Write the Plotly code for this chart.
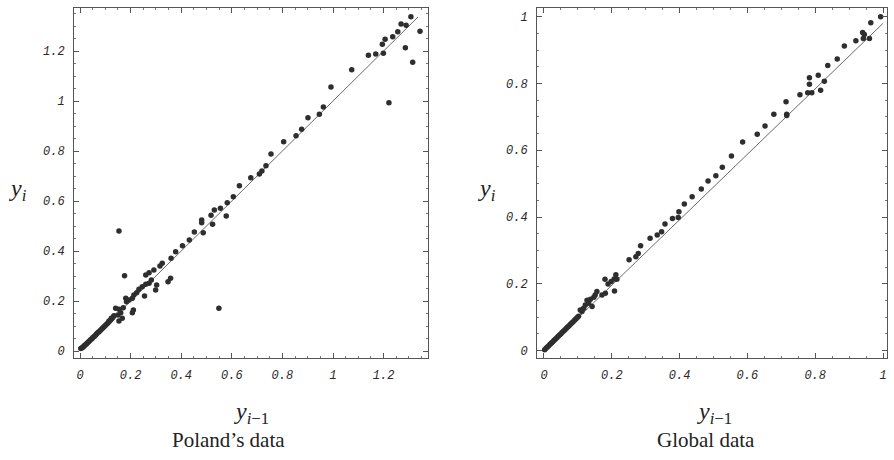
import plotly.graph_objects as go

# ---- Poland's data: (y_{i-1}, y_i) pairs ----
pl_prev = [0.003, 0.007, 0.011, 0.015, 0.019, 0.024, 0.028, 0.033, 0.037, 0.042, 0.047, 0.051,
           0.056, 0.061, 0.065, 0.070, 0.075, 0.080, 0.085, 0.090, 0.095, 0.100, 0.105, 0.110,
           0.115, 0.120, 0.125, 0.130,
           0.124, 0.134, 0.150, 0.154, 0.161, 0.167, 0.141, 0.154, 0.171, 0.115,
           0.181, 0.184, 0.194, 0.207, 0.213, 0.211, 0.207, 0.224, 0.233, 0.246, 0.255,
           0.260, 0.273, 0.282, 0.299, 0.303, 0.260, 0.273, 0.292, 0.316, 0.325, 0.348, 0.358,
           0.154, 0.176, 0.549,
           0.360, 0.378, 0.405, 0.432, 0.452, 0.487, 0.481, 0.481, 0.524, 0.518, 0.531, 0.555,
           0.578, 0.582, 0.606, 0.630, 0.675, 0.709, 0.719, 0.735, 0.755, 0.805, 0.854, 0.876,
           0.901, 0.946, 0.962, 0.992, 1.074, 1.140, 1.169, 1.199, 1.195, 1.206, 1.236, 1.256,
           1.269, 1.289, 1.308, 1.344, 1.286, 1.315, 1.221]
pl_curr = [0.010, 0.012, 0.015, 0.019, 0.023, 0.027, 0.031, 0.036, 0.040, 0.045, 0.049, 0.054,
           0.058, 0.063, 0.068, 0.073, 0.077, 0.082, 0.087, 0.092, 0.097, 0.102, 0.107, 0.112,
           0.118, 0.123, 0.129, 0.134,
           0.131, 0.141, 0.144, 0.120, 0.153, 0.131, 0.171, 0.167, 0.173, 0.120,
           0.211, 0.197, 0.204, 0.211, 0.224, 0.164, 0.153, 0.233, 0.247, 0.257, 0.220,
           0.267, 0.271, 0.284, 0.244, 0.264, 0.304, 0.313, 0.324, 0.340, 0.351, 0.277, 0.291,
           0.480, 0.301, 0.171,
           0.371, 0.397, 0.421, 0.444, 0.476, 0.473, 0.513, 0.524, 0.507, 0.543, 0.564, 0.571,
           0.540, 0.593, 0.617, 0.661, 0.693, 0.708, 0.720, 0.741, 0.788, 0.837, 0.861, 0.887,
           0.933, 0.947, 0.976, 1.056, 1.125, 1.183, 1.188, 1.191, 1.227, 1.247, 1.257, 1.277,
           1.308, 1.303, 1.337, 1.279, 1.213, 1.155, 0.993]
pl_line_x = [0.0, 1.336]
pl_line_y = [0.0, 1.336]

# ---- Global data: (y_{i-1}, y_i) pairs ----
gl_prev = [0.002, 0.006, 0.010, 0.014, 0.018, 0.022, 0.026, 0.030, 0.034, 0.038, 0.042, 0.046,
           0.050, 0.054, 0.058, 0.062, 0.066, 0.070, 0.074, 0.078, 0.082, 0.086, 0.090, 0.094,
           0.098, 0.102,
           0.107, 0.112, 0.117, 0.122, 0.127, 0.132, 0.137, 0.142, 0.147, 0.151, 0.156, 0.171,
           0.181, 0.189, 0.198, 0.207, 0.212, 0.208, 0.215, 0.180,
           0.251, 0.271, 0.278, 0.285, 0.313, 0.334, 0.347, 0.357, 0.379, 0.396, 0.398, 0.414,
           0.437, 0.464, 0.484, 0.507, 0.526, 0.553, 0.586, 0.629, 0.652, 0.678, 0.714, 0.716,
           0.716, 0.755, 0.778, 0.790, 0.783, 0.783, 0.809, 0.816, 0.827, 0.837, 0.865, 0.886,
           0.920, 0.942, 0.960, 0.940, 0.945, 0.964, 0.993]
gl_curr = [0.003, 0.007, 0.011, 0.015, 0.019, 0.023, 0.027, 0.031, 0.035, 0.039, 0.043, 0.047,
           0.051, 0.055, 0.059, 0.063, 0.067, 0.071, 0.075, 0.079, 0.083, 0.087, 0.091, 0.095,
           0.099, 0.103,
           0.122, 0.117, 0.127, 0.137, 0.151, 0.142, 0.154, 0.132, 0.160, 0.167, 0.177, 0.167,
           0.172, 0.200, 0.207, 0.215, 0.227, 0.179, 0.214, 0.214,
           0.272, 0.281, 0.291, 0.314, 0.337, 0.346, 0.356, 0.379, 0.396, 0.399, 0.416, 0.439,
           0.461, 0.484, 0.508, 0.524, 0.549, 0.583, 0.625, 0.648, 0.673, 0.708, 0.745, 0.708,
           0.704, 0.766, 0.772, 0.772, 0.798, 0.817, 0.825, 0.780, 0.807, 0.854, 0.873, 0.912,
           0.928, 0.935, 0.935, 0.953, 0.947, 0.982, 1.000]
gl_line_x = [0.0, 1.0]
gl_line_y = [0.0, 0.98]

tick_vals_pl = [0, 0.2, 0.4, 0.6, 0.8, 1, 1.2]
tick_text_pl = ["0", "0.2", "0.4", "0.6", "0.8", "1", "1.2"]
tick_vals_gl = [0, 0.2, 0.4, 0.6, 0.8, 1]
tick_text_gl = ["0", "0.2", "0.4", "0.6", "0.8", "1"]

INK = "#2e2e2e"
FRAME = "#555555"

fig = go.Figure()

for prev, curr, lx, ly, xa, ya in [
    (pl_prev, pl_curr, pl_line_x, pl_line_y, "x", "y"),
    (gl_prev, gl_curr, gl_line_x, gl_line_y, "x2", "y2"),
]:
    fig.add_trace(go.Scatter(x=lx, y=ly, mode="lines", xaxis=xa, yaxis=ya,
                             line=dict(color="#6a6a6a", width=1), showlegend=False,
                             hoverinfo="skip"))
    fig.add_trace(go.Scatter(x=prev, y=curr, mode="markers", xaxis=xa, yaxis=ya,
                             marker=dict(color=INK, size=5.5, line=dict(width=0)),
                             showlegend=False))

tickfont = dict(family="Liberation Mono", size=12, color="#2a2a2a", style="italic")


def axis_style(domain, rng, vals, text, anchor):
    return dict(domain=domain, range=rng, anchor=anchor,
                tickvals=vals, ticktext=text, tickfont=tickfont,
                showgrid=False, zeroline=False,
                showline=True, linecolor=FRAME, linewidth=1, mirror="allticks",
                ticks="inside", ticklen=5, tickwidth=1, tickcolor=FRAME,
                minor=dict(dtick=0.05, ticks="inside", ticklen=2, tickcolor="#777777"),
                ticklabelstandoff=6)


W, H = 894, 460
fig.update_layout(
    width=W, height=H,
    margin=dict(l=0, r=0, t=0, b=0),
    paper_bgcolor="white", plot_bgcolor="white",
    xaxis=axis_style([74 / W, 428 / W], [-0.0237, 1.3755], tick_vals_pl, tick_text_pl, "y"),
    yaxis=axis_style([1 - 358 / H, 1 - 8 / H], [-0.028, 1.372], tick_vals_pl, tick_text_pl, "x"),
    xaxis2=axis_style([537 / W, 887 / W], [-0.0206, 1.0118], tick_vals_gl, tick_text_gl, "y2"),
    yaxis2=axis_style([1 - 358 / H, 1 - 8 / H], [-0.0219, 1.026], tick_vals_gl, tick_text_gl, "x2"),
)

serif = "Liberation Serif"
notes = [
    (18, 190, "<i>y</i><sub><i>i</i></sub>", 24),
    (487, 190, "<i>y</i><sub><i>i</i></sub>", 24),
    (252, 413, "<i>y</i><sub><i>i</i>−1</sub>", 24),
    (714, 413, "<i>y</i><sub><i>i</i>−1</sub>", 24),
    (228, 440, "Poland’s data", 21),
    (706, 440, "Global data", 21),
]
for x, y, txt, sz in notes:
    fig.add_annotation(x=x / W, y=1 - y / H, xref="paper", yref="paper", text=txt,
                       showarrow=False, xanchor="center", yanchor="middle",
                       font=dict(family=serif, size=sz, color="#222222"))

fig.write_html("out.html")
